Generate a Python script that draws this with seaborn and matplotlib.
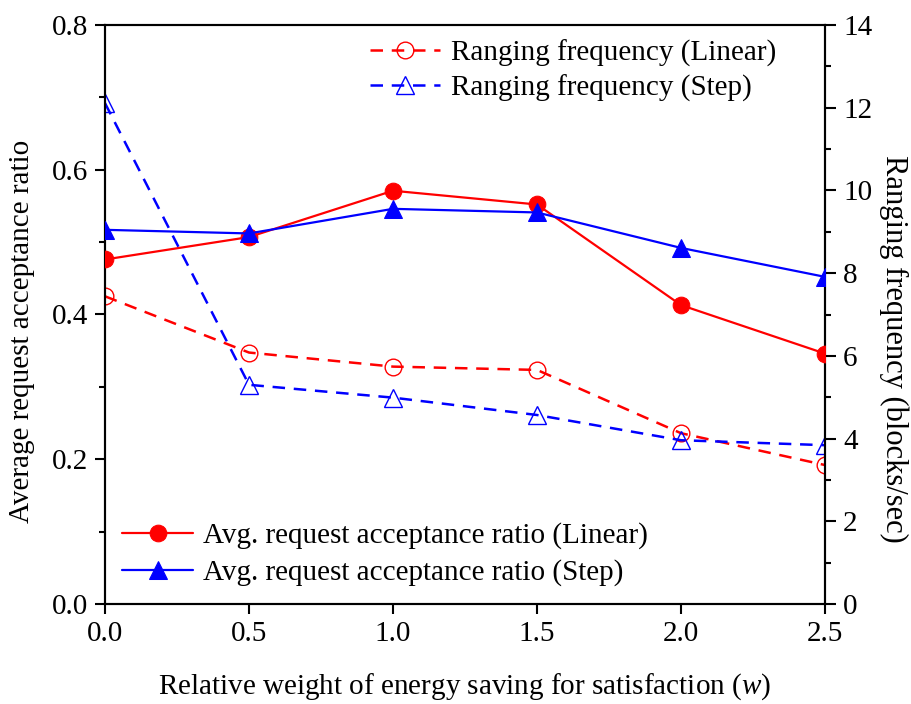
import matplotlib
matplotlib.use("Agg")
import matplotlib.pyplot as plt
import seaborn as sns
import numpy as np
import pandas as pd
from matplotlib.ticker import MultipleLocator, FormatStrFormatter

sns.set_style("ticks")
plt.rcParams['font.family'] = ['Liberation Serif', 'DejaVu Serif']
plt.rcParams['mathtext.fontset'] = 'custom'
plt.rcParams['mathtext.it'] = 'Liberation Serif:italic'
plt.rcParams['mathtext.rm'] = 'Liberation Serif'
for k in ('text.color', 'axes.labelcolor', 'xtick.color', 'ytick.color', 'axes.edgecolor'):
    plt.rcParams[k] = 'black'

w = [0.0, 0.5, 1.0, 1.5, 2.0, 2.5]
acc_linear = [0.476, 0.507, 0.571, 0.552, 0.413, 0.346]
acc_step = [0.517, 0.512, 0.546, 0.541, 0.492, 0.452]
rng_linear = [7.44, 6.08, 5.74, 5.66, 4.13, 3.36]
rng_step = [12.11, 5.30, 4.99, 4.57, 3.96, 3.84]

FS = 21
fig = plt.figure(figsize=(9.12, 7.04), dpi=100)
ax = fig.add_axes([105/912, 1-604/704, 720/912, 579/704])
ax2 = ax.twinx()

sns.lineplot(x=w, y=acc_linear, ax=ax, color='red', marker='o', markersize=12,
             markeredgecolor='red', linewidth=1.6, label='Avg. request acceptance ratio (Linear)', zorder=3)
sns.lineplot(x=w, y=acc_step, ax=ax, color='blue', marker='^', markersize=12.5,
             markeredgecolor='blue', linewidth=1.6, label='Avg. request acceptance ratio (Step)', zorder=3)

sns.lineplot(x=w, y=rng_linear, ax=ax2, color='red', marker='o', markersize=12,
             markerfacecolor='none', markeredgecolor='red', markeredgewidth=1.0,
             linewidth=1.8, label='Ranging frequency (Linear)')
sns.lineplot(x=w, y=rng_step, ax=ax2, color='blue', marker='^', markersize=13,
             markerfacecolor='none', markeredgecolor='blue', markeredgewidth=1.0,
             linewidth=1.8, label='Ranging frequency (Step)')
for ln in ax2.get_lines():
    ln.set_dashes((5, 3.5))

ax.set_xlim(0, 2.5)
ax.set_ylim(0, 0.8)
ax2.set_ylim(0, 14)
ax.xaxis.set_major_locator(MultipleLocator(0.5))
ax.yaxis.set_major_locator(MultipleLocator(0.2))
ax.yaxis.set_minor_locator(MultipleLocator(0.1))
ax2.yaxis.set_major_locator(MultipleLocator(2))
ax2.yaxis.set_minor_locator(MultipleLocator(1))
ax.xaxis.set_major_formatter(FormatStrFormatter('%.1f'))
ax.yaxis.set_major_formatter(FormatStrFormatter('%.1f'))

for a in (ax, ax2):
    for s in a.spines.values():
        s.set_visible(True)
        s.set_linewidth(1.5)
        s.set_color('black')
ax.tick_params(axis='both', which='major', labelsize=FS, length=7, width=1.5, direction='out', colors='black', pad=5)
ax.tick_params(axis='y', which='minor', length=4, width=1.5, direction='out', colors='black')
ax2.tick_params(axis='y', which='major', labelsize=FS, length=8, width=1.5, direction='out', pad=5, colors='black')
ax2.tick_params(axis='y', which='minor', length=4.5, width=1.5, direction='out', colors='black')

ax.set_xlabel('Relative weight of energy saving for satisfaction ($w$)', fontsize=FS, labelpad=18, color='black')
ax.set_ylabel('Average request acceptance ratio', fontsize=FS, color='black', va='center')
ax2.set_ylabel('Ranging frequency (blocks/sec)', fontsize=FS + 1, rotation=270, va='center', color='black')
ax.yaxis.set_label_coords(-0.115, 0.47)
ax2.yaxis.set_label_coords(1.095, 0.44)

ax.legend(loc='lower left', frameon=False, fontsize=FS, handlelength=2.4,
          borderaxespad=0.2, handletextpad=0.35, labelspacing=0.35, bbox_to_anchor=(0.0, 0.0))
ax2.legend(loc='upper right', frameon=False, fontsize=FS, handlelength=2.4,
           borderaxespad=0.3, handletextpad=0.35, labelspacing=0.25, bbox_to_anchor=(0.96, 1.01))
ax.set_zorder(ax2.get_zorder() + 1)
ax.patch.set_visible(False)

fig.savefig('out.png', dpi=100)
